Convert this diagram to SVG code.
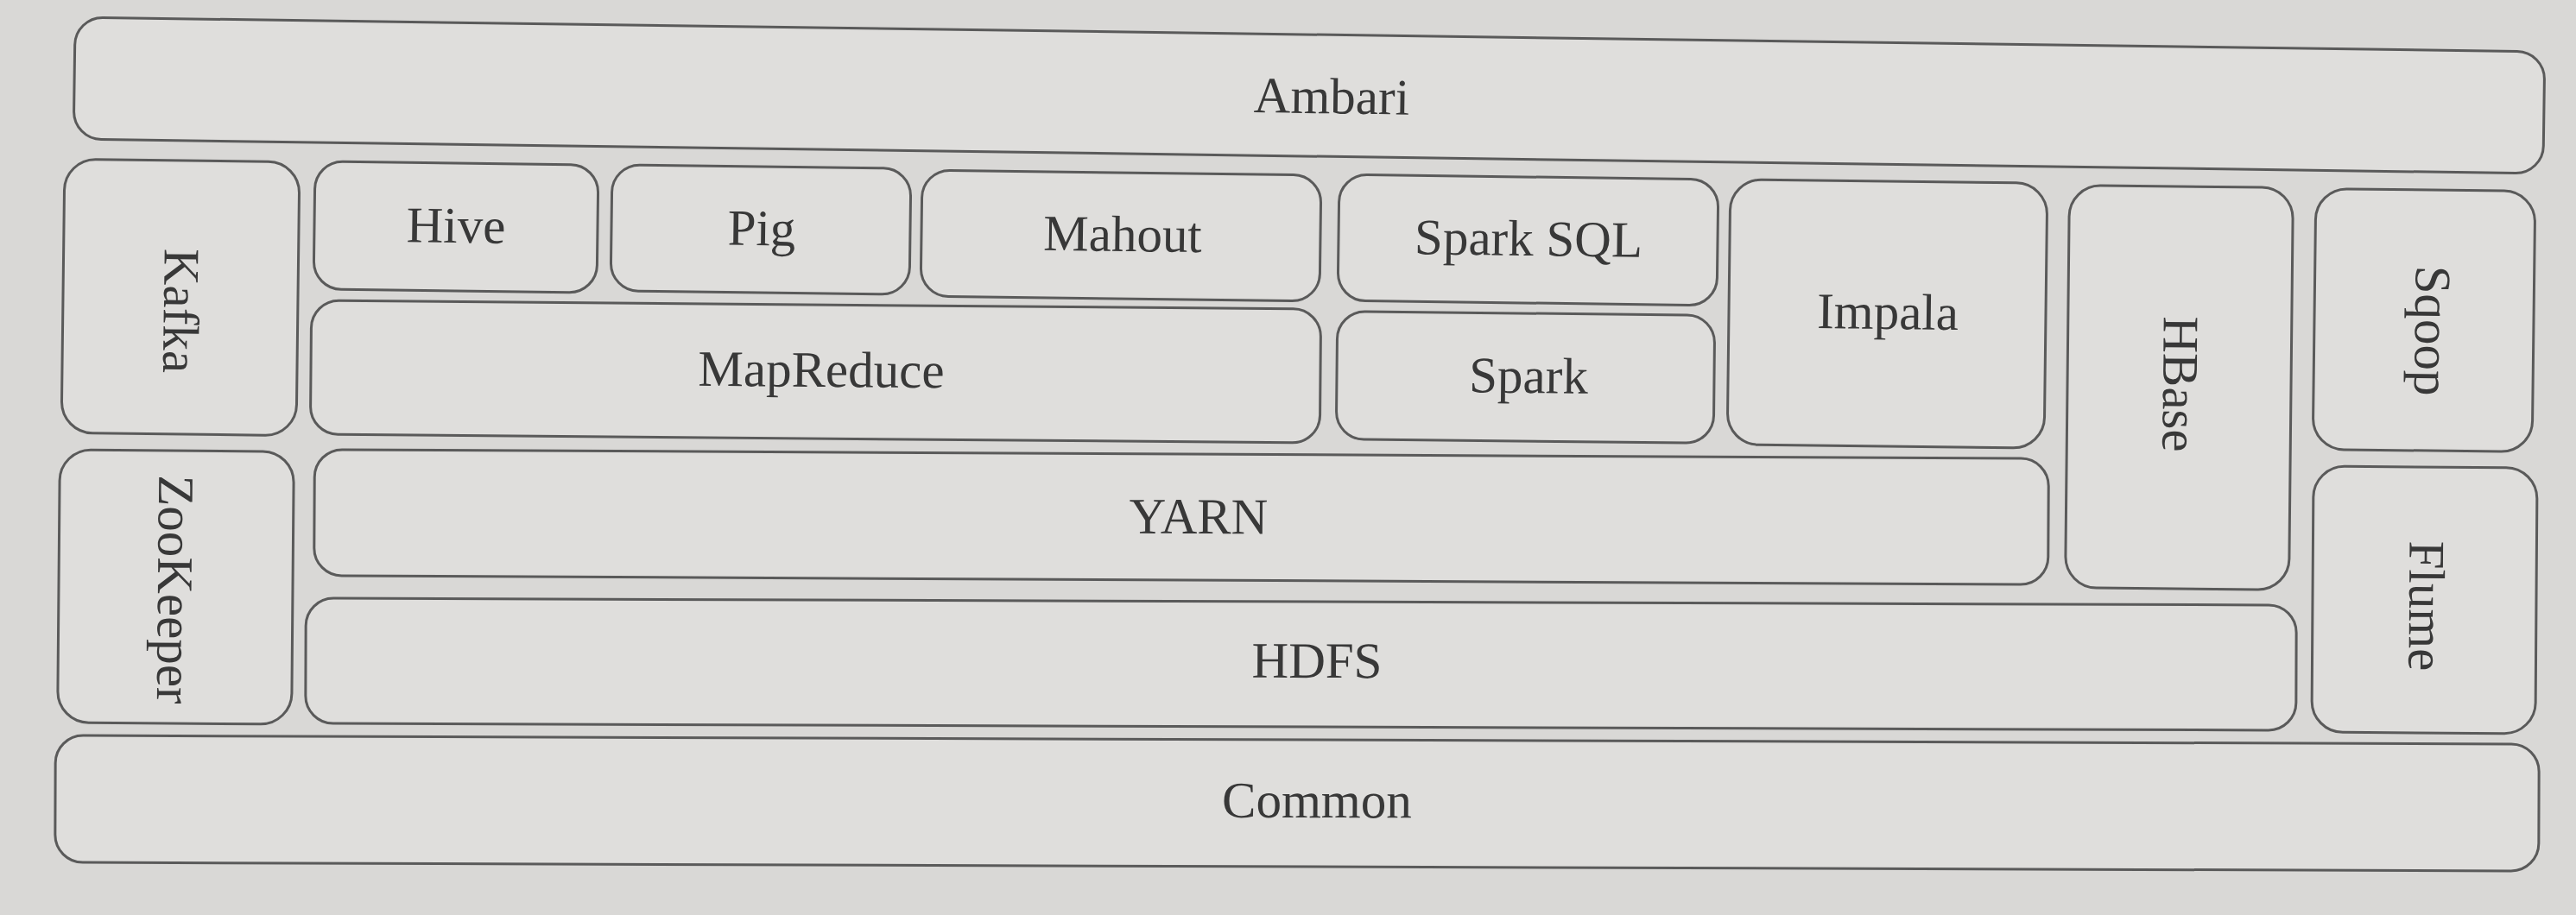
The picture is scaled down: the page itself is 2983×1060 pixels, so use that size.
<svg xmlns="http://www.w3.org/2000/svg" width="2983" height="1060" viewBox="0 0 2983 1060">
<style>
.box{fill:#dfdedc;stroke:#5a5a5a;stroke-width:3}
.lbl{font-family:"Liberation Serif","Times New Roman",serif;font-size:59px;fill:#383838;text-anchor:middle}
</style>
<rect x="0" y="0" width="2983" height="1060" fill="#d9d8d6"/>
<g id="ambari" transform="rotate(0.8 1516 110)">
<rect class="box" x="86" y="40" width="2860" height="141" rx="32"/>
<text class="lbl" x="1542" y="131">Ambari</text>
</g>
<g id="kafka" transform="rotate(0.7 209 344)">
<rect class="box" x="73" y="186" width="272" height="317" rx="36"/>
<text class="lbl" transform="translate(190 360) rotate(90)">Kafka</text>
</g>
<g id="zookeeper" transform="rotate(0.5 203 680)">
<rect class="box" x="68" y="522" width="271" height="316" rx="36"/>
<text class="lbl" transform="translate(183 683) rotate(90)">ZooKeeper</text>
</g>
<g id="hive" transform="rotate(0.75 528 263)">
<rect class="box" x="364" y="189" width="328" height="148" rx="32"/>
<text class="lbl" x="528" y="281">Hive</text>
</g>
<g id="pig" transform="rotate(0.75 881 266)">
<rect class="box" x="708" y="193" width="346" height="146" rx="32"/>
<text class="lbl" x="882" y="284">Pig</text>
</g>
<g id="mahout" transform="rotate(0.75 1298 273)">
<rect class="box" x="1067" y="200" width="462" height="146" rx="32"/>
<text class="lbl" x="1300" y="291">Mahout</text>
</g>
<g id="sparksql" transform="rotate(0.75 1769 278)">
<rect class="box" x="1550" y="205" width="439" height="146" rx="32"/>
<text class="lbl" x="1770" y="296">Spark SQL</text>
</g>
<g id="impala" transform="rotate(0.7 2185 363)">
<rect class="box" x="2002" y="210" width="367" height="307" rx="36"/>
<text class="lbl" x="2186" y="381">Impala</text>
</g>
<g id="hbase" transform="rotate(0.6 2523 449)">
<rect class="box" x="2394" y="216" width="259" height="466" rx="36"/>
<text class="lbl" transform="translate(2505 445) rotate(90)">HBase</text>
</g>
<g id="sqoop" transform="rotate(0.7 2807 371)">
<rect class="box" x="2680" y="220" width="254" height="302" rx="36"/>
<text class="lbl" transform="translate(2797 383) rotate(90)">Sqoop</text>
</g>
<g id="mapreduce" transform="rotate(0.5 944 430)">
<rect class="box" x="360" y="353" width="1169" height="155" rx="32"/>
<text class="lbl" x="951" y="448">MapReduce</text>
</g>
<g id="spark" transform="rotate(0.6 1766 437)">
<rect class="box" x="1548" y="363" width="437" height="148" rx="32"/>
<text class="lbl" x="1770" y="455">Spark</text>
</g>
<g id="yarn" transform="rotate(0.3 1368 601)">
<rect class="box" x="364" y="526" width="2008" height="146" rx="32"/>
<text class="lbl" x="1388" y="618">YARN</text>
</g>
<g id="flume" transform="rotate(0.4 2807 695)">
<rect class="box" x="2678" y="541" width="259" height="308" rx="36"/>
<text class="lbl" transform="translate(2790 702) rotate(90)">Flume</text>
</g>
<g id="hdfs" transform="rotate(0.2 1506 770)">
<rect class="box" x="354" y="697" width="2305" height="145" rx="32"/>
<text class="lbl" x="1525" y="785">HDFS</text>
</g>
<g id="common" transform="rotate(0.2 1502 931)">
<rect class="box" x="64" y="857" width="2876" height="147" rx="32"/>
<text class="lbl" x="1525" y="947">Common</text>
</g>
</svg>
